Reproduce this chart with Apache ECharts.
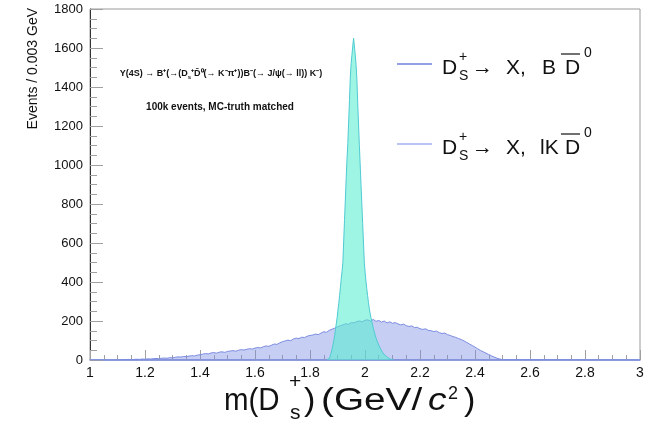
<!DOCTYPE html>
<html>
<head>
<meta charset="utf-8">
<script src="https://cdn.jsdelivr.net/npm/echarts@6/dist/echarts.min.js"></script>
<style>
  html, body { margin: 0; padding: 0; background: #fff; }
  #chart { width: 647px; height: 428px; }
</style>
</head>
<body>
<div id="chart"></div>
<script>
// Axis ranges and tick steps
const xRange = [1, 3];
const xTickStep = 0.2;
const yRange = [0, 1800];
const yTickStep = 200;

// Broad D_s+ -> X, B Dbar0 distribution: counts per 0.003 GeV, read in 0.01 GeV steps from 1.10
const broadStart = 1.10;
const broadStep = 0.01;
const broadCounts = [
  1, 2, 2, 3, 2, 3, 4, 3, 5, 4,
  6, 5, 7, 8, 7, 9, 10, 9, 12, 11,
  14, 16, 15, 18, 17, 20, 22, 21, 25, 27,
  30, 33, 31, 36, 38, 35, 40, 42, 39, 44,
  46, 48, 45, 50, 53, 51, 55, 58, 56, 61,
  64, 62, 68, 72, 70, 76, 82, 80, 88, 94,
  98, 102, 99, 108, 112, 110, 117, 115, 122, 126,
  128, 133, 130, 138, 145, 142, 152, 158, 163, 170,
  176, 180, 186, 183, 192, 190, 197, 200, 196, 204,
  206, 200, 208, 198, 203, 194, 200, 190, 196, 188,
  192, 185, 180, 184, 176, 172, 175, 166, 168, 160,
  157, 160, 152, 150, 146, 148, 140, 136, 138, 130,
  126, 120, 116, 110, 105, 98, 90, 82, 74, 66,
  57, 49, 42, 35, 28, 21, 15, 9, 5, 2
];

// Narrow D_s+ peak: counts per 0.003 GeV bin starting at 1.8625
const peakStart = 1.8625;
const peakStep = 0.003;
const peakCounts = [
  3, 5, 9, 15, 26, 40, 58, 78, 100, 125,
  155, 185, 215, 255, 290, 330, 370, 415, 455, 500,
  610, 715, 820, 930, 1030, 1110, 1220, 1330, 1450, 1520,
  1565, 1610, 1650, 1610, 1565, 1515, 1440, 1320, 1210, 1100,
  1000, 900, 800, 700, 600, 500, 450, 405, 365, 330,
  295, 265, 240, 218, 200, 180, 162, 145, 130, 116,
  103, 92, 82, 72, 63, 55, 47, 40, 34, 28,
  23, 18, 14, 11, 8, 6, 4, 3, 2, 1
];

// Turn bin counts into step-line points at the left bin edges
function histPoints(start, step, counts, padToRange) {
  const pts = [];
  if (padToRange) pts.push([xRange[0], 0]);
  counts.forEach((c, i) => pts.push([+(start + i * step).toFixed(4), c]));
  pts.push([+(start + counts.length * step).toFixed(4), 0]);
  if (padToRange) pts.push([xRange[1], 0]);
  return pts;
}

const font = 'Liberation Sans, Arial, Helvetica, sans-serif';
const ink = '#111';
const chart = echarts.init(document.getElementById('chart'), null, { renderer: 'canvas' });

function txt(x, y, text, size, extra) {
  return Object.assign({ type: 'text', x: x, y: y,
    style: { text: text, font: size + 'px ' + font, fill: ink, verticalAlign: 'middle' } }, extra || {});
}

// Legend entry text, built from pieces so the sub/superscripts stack
function legendEntry(cy, lineColor, midText, midX) {
  return [
    { type: 'line', shape: { x1: 397, y1: cy - 4, x2: 432, y2: cy - 4 }, style: { stroke: lineColor, lineWidth: 1.5 } },
    txt(442, cy, 'D', 21),
    txt(459, cy - 11, '+', 14),
    txt(459, cy + 8, 'S', 14),
    txt(472, cy, '\u2192', 21),
    txt(506, cy, 'X,', 21),
    txt(midX, cy, midText, 21),
    txt(565, cy, 'D', 21),
    { type: 'line', shape: { x1: 561, y1: cy - 14, x2: 580, y2: cy - 14 }, style: { stroke: ink, lineWidth: 1.2 } },
    txt(584, cy - 15, '0', 14)
  ];
}

const option = {
  animation: false,
  backgroundColor: '#fff',
  grid: { left: 90, right: 7, top: 9, bottom: 68, show: true, borderColor: '#9a9a9a', borderWidth: 1 },
  xAxis: {
    type: 'value', min: xRange[0], max: xRange[1], interval: xTickStep,
    axisLine: { show: true, onZero: false, lineStyle: { color: '#7b8ce0', width: 1.5 } },
    axisTick: { show: true, inside: true, length: 10, lineStyle: { color: '#a0a0a0' } },
    minorTick: { show: true, splitNumber: 4, length: 5, lineStyle: { color: '#a0a0a0' } },
    splitLine: { show: false },
    axisLabel: { color: ink, fontSize: 14, fontFamily: font, margin: 6,
      formatter: v => String(+v.toFixed(1)) }
  },
  yAxis: {
    type: 'value', min: yRange[0], max: yRange[1], interval: yTickStep,
    axisLine: { show: true, lineStyle: { color: '#333', width: 1 } },
    axisTick: { show: true, inside: true, length: 13, lineStyle: { color: '#a0a0a0' } },
    minorTick: { show: true, splitNumber: 4, length: 7, lineStyle: { color: '#a0a0a0' } },
    splitLine: { show: false },
    axisLabel: { color: ink, fontSize: 13, fontFamily: font, margin: 7,
      formatter: v => String(Math.round(v)) }
  },
  series: [
    {
      name: 'D_s+ -> X, B Dbar0',
      type: 'line', step: 'end', showSymbol: false, z: 2,
      data: histPoints(broadStart, broadStep, broadCounts, true),
      lineStyle: { color: '#7b8ce0', width: 1 },
      areaStyle: { color: 'rgba(122,138,228,0.6)' }
    },
    {
      name: 'D_s+ peak',
      type: 'line', step: 'end', showSymbol: false, z: 3,
      data: histPoints(peakStart, peakStep, peakCounts, false),
      lineStyle: { color: '#4fcad2', width: 1 },
      areaStyle: { color: 'rgba(85,238,208,0.82)' }
    }
  ],
  graphic: [
    // y-axis title, right-aligned to the top of the frame
    { type: 'text', x: 33, y: 8, rotation: Math.PI / 2,
      style: { text: 'Events / 0.003 GeV', font: '14px ' + font, fill: ink, align: 'right', verticalAlign: 'middle' } },
    // decay chain annotation
    { type: 'text', x: 221, y: 74,
      style: { text: '{n|\u03A5(4S) \u2192 B\u207A(\u2192(D}{s|s}{n|\u207AD\u0304\u2070(\u2192 K\u207B\u03C0\u207A))B\u207B(\u2192 J/\u03C8(\u2192 ll)) K\u207B)}',
        align: 'center', verticalAlign: 'middle',
        rich: { n: { font: 'bold 9px ' + font, fill: ink }, s: { font: 'bold 6px ' + font, fill: ink, padding: [7, 0, 0, 0] } } } },
    { type: 'text', x: 220, y: 107,
      style: { text: '100k events, MC-truth matched', font: 'bold 10px ' + font, fill: ink, align: 'center', verticalAlign: 'middle' } },
    // x-axis title m(D_s^+) (GeV/c^2)
    txt(224, 401, 'm(D', 31, { scaleX: 0.95 }),
    txt(289, 382, '+', 21),
    txt(290, 413, 's', 21),
    txt(304, 401, ')', 31, { scaleX: 1.1 }),
    txt(321, 401, '(GeV/', 31, { scaleX: 1.25 }),
    { type: 'text', x: 428, y: 401, scaleX: 1.2,
      style: { text: 'c', font: 'italic 31px ' + font, fill: ink, verticalAlign: 'middle' } },
    txt(448, 394, '2', 18),
    txt(464, 401, ')', 31, { scaleX: 1.1 })
  ].concat(legendEntry(68, '#7080dd', 'B', 542), legendEntry(148, '#a4aef0', 'lK', 540))
};

chart.setOption(option);
</script>
</body>
</html>
